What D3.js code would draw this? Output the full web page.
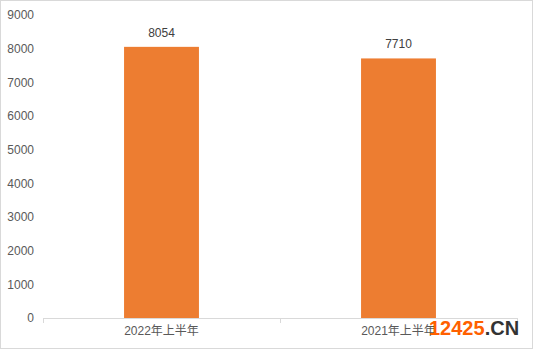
<!DOCTYPE html>
<html>
<head>
<meta charset="utf-8">
<script src="https://cdn.jsdelivr.net/npm/d3@7"></script>
<style>
  body { margin: 0; background: #fff; }
  svg text { font-family: "Liberation Sans", Arial, "Noto Sans CJK SC", sans-serif; }
</style>
</head>
<body>
<svg id="chart"></svg>
<script>
// categories and values
const categories = ["2022年上半年", "2021年上半年"];
const values = [8054, 7710];
const yTicks = [0, 1000, 2000, 3000, 4000, 5000, 6000, 7000, 8000, 9000];

const width = 533;
const height = 351;

const svg = d3.select("#chart")
    .attr("width", width)
    .attr("height", height);

// outer frame
svg.append("rect")
    .attr("x", 0.5).attr("y", 0.5)
    .attr("width", width - 1).attr("height", height - 3)
    .attr("fill", "#fff")
    .attr("stroke", "#d9d9d9");

const x = d3.scaleBand()
    .domain(categories)
    .range([43, 517])
    .paddingInner(0.684)
    .paddingOuter(0.342);

const y = d3.scaleLinear()
    .domain([0, 9000])
    .range([318, 15]);

// y axis labels (no line)
svg.append("g")
    .selectAll("text")
    .data(yTicks)
    .join("text")
    .attr("x", 34)
    .attr("y", d => y(d))
    .attr("dy", "0.35em")
    .attr("text-anchor", "end")
    .attr("font-size", 12)
    .attr("fill", "#595959")
    .text(d => d);

// bars
svg.append("g")
    .selectAll("rect")
    .data(values)
    .join("rect")
    .attr("x", (d, i) => x(categories[i]))
    .attr("y", d => y(d))
    .attr("width", x.bandwidth())
    .attr("height", d => y(0) - y(d))
    .attr("fill", "#ed7d31");

// value labels
svg.append("g")
    .selectAll("text")
    .data(values)
    .join("text")
    .attr("x", (d, i) => x(categories[i]) + x.bandwidth() / 2)
    .attr("y", d => y(d) - 10)
    .attr("text-anchor", "middle")
    .attr("font-size", 12)
    .attr("fill", "#404040")
    .text(d => d);

// x axis
const bandOuter = d3.scaleBand().domain(categories).range([43, 517]);
const xAxis = svg.append("g");
xAxis.append("line")
    .attr("x1", 43).attr("x2", 517)
    .attr("y1", 318.5).attr("y2", 318.5)
    .attr("stroke", "#d9d9d9");
const tickXs = categories.map(c => bandOuter(c)).concat([517]);
xAxis.selectAll("line.tick")
    .data(tickXs)
    .join("line")
    .attr("class", "tick")
    .attr("x1", d => d + 0.5).attr("x2", d => d + 0.5)
    .attr("y1", 318).attr("y2", 323)
    .attr("stroke", "#d9d9d9");
xAxis.selectAll("text")
    .data(categories)
    .join("text")
    .attr("x", d => bandOuter(d) + bandOuter.bandwidth() / 2)
    .attr("y", 335)
    .attr("text-anchor", "middle")
    .attr("font-size", 12)
    .attr("fill", "#595959")
    .text(d => d);

// watermark
const wm = svg.append("text")
    .attr("x", 429)
    .attr("y", 335)
    .attr("font-size", 20)
    .attr("font-weight", "bold");
wm.append("tspan").attr("fill", "#ff6000").text("12425");
wm.append("tspan").attr("fill", "#333").text(".CN");
</script>
</body>
</html>
